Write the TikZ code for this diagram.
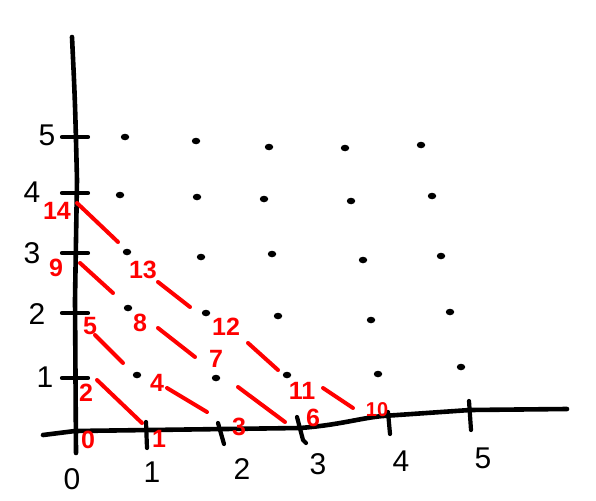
\documentclass[tikz,border=0pt]{standalone}
\usepackage{fontspec}
\setmainfont{Liberation Sans}
\usetikzlibrary{shapes.geometric}
\begin{document}
\begin{tikzpicture}[x=1pt,y=-1pt,
  axis/.style={line width=4.6pt,line cap=round,line join=round,black},
  tickmark/.style={line width=4.2pt,line cap=round,black},
  pt/.style={ellipse,fill=black,inner sep=0pt,minimum width=8.5pt,minimum height=6.5pt},
  lab/.style={inner sep=0pt,font=\fontsize{30}{30}\selectfont},
  rnum/.style={inner sep=0pt,text=red,font=\fontsize{25}{25}\selectfont\bfseries},
  rline/.style={line width=4pt,line cap=round,red}]
\useasboundingbox (0,0) rectangle (596,500);
% axes
\draw[axis] (72,37) .. controls (75,100) .. (77,180) -- (75,300) -- (76,453);
\draw[axis] (43,435) -- (75,431) -- (300,428) .. controls (340,425) and (360,418) .. (383,416) -- (470,410) -- (567,409);
% y ticks
\foreach \yy in {137,193,253,313,378}
  \draw[tickmark] (62,\yy) -- (88,\yy);
% x ticks
\draw[tickmark] (146,422) -- (147,448);
\draw[tickmark] (218,423) -- (224,444);
\draw[tickmark] (297,417) -- (303,440) -- (306,443);
\draw[tickmark] (388,412) -- (390,434);
\draw[tickmark] (469,401) -- (471,430);
% axis labels
\node[lab] (y5) at (47,135) {5};
\node[lab] (y4) at (32,192) {4};
\node[lab] (y3) at (32,253) {3};
\node[lab] (y2) at (37,314) {2};
\node[lab] (y1) at (45,377) {1};
\node[lab] (x0) at (72,479) {0};
\node[lab] (x1) at (152,472) {1};
\node[lab] (x2) at (242,469) {2};
\node[lab] (x3) at (318,464) {3};
\node[lab] (x4) at (401,461) {4};
\node[lab] (x5) at (483,458) {5};
% dots
\foreach \px/\py [count=\i] in {125/137,196/141,269/147,345/148,421/145,
  120/195,197/197,264/199,351/201,432/196,
  127/252,201/257,272/254,363/260,441/256,
  128/308,206/313,278/316,371/320,450/312,
  137/375,216/378,287/375,378/374,461/367}
  \node[pt] (d\i) at (\px,\py) {};
% red numbers
\node[rnum] (n0) at (88,440) {0};
\node[rnum] (n1) at (159,439) {1};
\node[rnum] (n3) at (239,427) {3};
\node[rnum] (n6) at (313,418) {6};
\node[rnum,font=\fontsize{20}{20}\selectfont\bfseries] (n10) at (377,410) {10};
\node[rnum] (n2) at (86,393) {2};
\node[rnum] (n4) at (157,383) {4};
\node[rnum] (n7) at (216,359) {7};
\node[rnum] (n11) at (302,391) {11};
\node[rnum] (n5) at (90,326) {5};
\node[rnum] (n8) at (140,323) {8};
\node[rnum] (n12) at (226,327) {12};
\node[rnum] (n9) at (56,268) {9};
\node[rnum] (n13) at (143,270) {13};
\node[rnum] (n14) at (57,211) {14};
% red stroke end points
\coordinate (a14) at (77,203); \coordinate (b14) at (118,242);
\coordinate (a13) at (158,282); \coordinate (b13) at (190,307);
\coordinate (a12) at (248,343); \coordinate (b12) at (278,370);
\coordinate (a11) at (323,388); \coordinate (b11) at (353,408);
\coordinate (a9) at (80,263); \coordinate (b9) at (113,293);
\coordinate (a8) at (158,328); \coordinate (b8) at (195,357);
\coordinate (a7) at (238,387); \coordinate (b7) at (285,422);
\coordinate (a5) at (95,335); \coordinate (b5) at (123,363);
\coordinate (a4) at (167,388); \coordinate (b4) at (207,412);
\coordinate (a2) at (97,380); \coordinate (b2) at (142,423);
\foreach \k in {14,13,12,11,9,8,7,5,4,2}
  \draw[rline] (a\k) -- (b\k);
\end{tikzpicture}
\end{document}
